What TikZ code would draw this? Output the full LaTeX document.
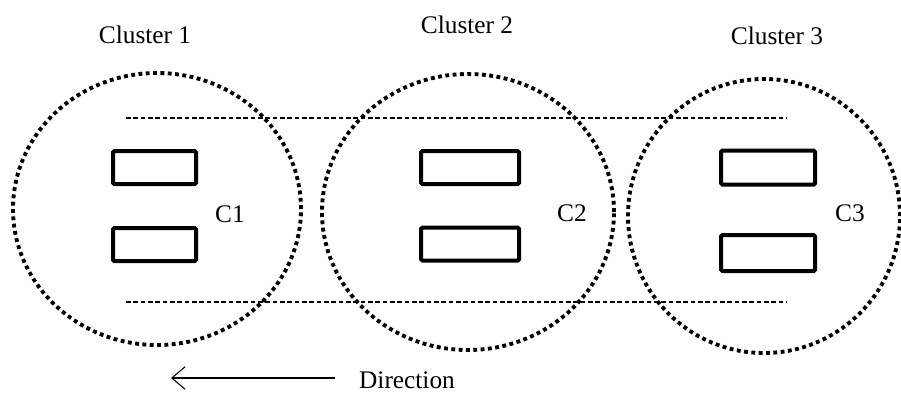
\documentclass[tikz,border=0pt]{standalone}
\usepackage{fontspec}
\setmainfont{Liberation Serif}
\usepackage{tikz}
\usetikzlibrary{
    arrows.meta,
    shapes.geometric,
    positioning
}
\tikzset{
    cluster/.style={draw, ellipse, inner sep=0pt, line width=2.9pt,
        dash pattern=on 2.9pt off 2.6pt},
    slot/.style={draw, rectangle, rounded corners=1pt, line width=3pt, inner sep=0pt},
    guide/.style={line width=0.8pt, dash pattern=on 3.5pt off 2pt},
    label/.style={font=\fontsize{19}{23}\selectfont, inner sep=0pt}
}

\begin{document}
\begin{tikzpicture}[x=0.75pt, y=-0.75pt]
                        \useasboundingbox (0, 0) rectangle (901, 394);
                        % clusters
                        \node[cluster, minimum width=216pt, minimum height=204pt] (cl1) at (157, 209) {};
                        \node[cluster, minimum width=219pt, minimum height=207pt] (cl2) at (468, 212) {};
                        \node[cluster, minimum width=204pt, minimum height=205.5pt] (cl3) at (764, 216) {};
                        % boxes
                        \node[slot, minimum width=62.25pt, minimum height=24.75pt] (b1a) at (154.5, 167.5) {};
                        \node[slot, minimum width=62.25pt, minimum height=24.75pt] (b1b) at (154.5, 244.5) {};
                        \node[slot, minimum width=73.5pt, minimum height=24.75pt] (b2a) at (470, 167.5) {};
                        \node[slot, minimum width=73.5pt, minimum height=24.75pt] (b2b) at (470, 244) {};
                        \node[slot, minimum width=70.5pt, minimum height=25.5pt] (b3a) at (768, 167.5) {};
                        \node[slot, minimum width=70.5pt, minimum height=27pt] (b3b) at (768, 253) {};
                        % guide lines
                        \coordinate (gtl) at (126, 118);
                        \coordinate (gtr) at (787, 118);
                        \coordinate (gbl) at (126, 302);
                        \coordinate (gbr) at (787, 302);
                        \draw[guide] (gtl) -- (gtr);
                        \draw[guide] (gbl) -- (gbr);
                        % labels
                        \node[label] (t1) at (145, 35) {Cluster 1};
                        \node[label] (t2) at (467, 25) {Cluster 2};
                        \node[label] (t3) at (777, 36) {Cluster 3};
                        \node[label] (c1) at (230, 214) {C1};
                        \node[label] (c2) at (572, 213) {C2};
                        \node[label] (c3) at (850, 213) {C3};
                        \node[label] (dir) at (407, 380) {Direction};
                        \coordinate (dtail) at (335, 378);
                        \coordinate (dhead) at (171, 378);
                        \draw[-{Straight Barb[length=10pt, width=17pt]}, line width=0.8pt] (dtail) -- (dhead);
                    \end{tikzpicture}
\end{document}
